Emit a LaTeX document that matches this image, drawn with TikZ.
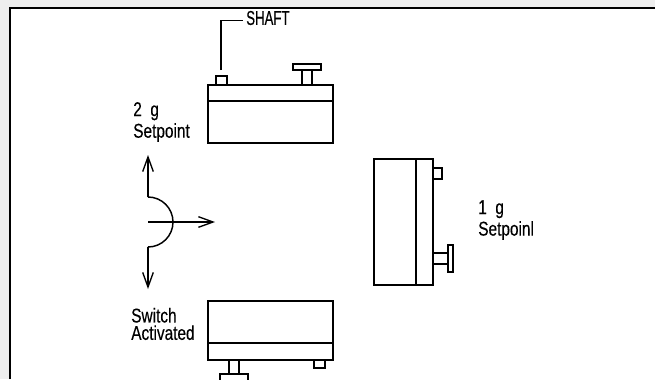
\documentclass[tikz,border=0pt]{standalone}
\usepackage{fontspec}
\newfontfamily\cadfont[FakeStretch=0.77,FakeBold=0.25]{Liberation Sans}
\newfontfamily\cadfontcap[FakeStretch=0.66,FakeBold=0.25]{Liberation Sans}
\usetikzlibrary{arrows.meta}
\definecolor{marco}{HTML}{EEEEEE}
\tikzset{
    linea/.style={line width=1.1pt,black},
    flecha/.style={linea,-{Straight Barb[length=11pt,width=8pt,line width=1pt]}},
    etiqueta/.style={font=\cadfont\fontsize{15}{13}\selectfont,align=left,anchor=west,inner sep=0pt}
}
\begin{document}
\begin{tikzpicture}[x=0.75pt,y=-0.75pt]
    % Marco
    \useasboundingbox (0,0) rectangle (655,379);
    \fill[marco] (0,0) rectangle (655,379);
    \fill[white] (10,8) rectangle (655,379);
    \draw[linea] (10,379) -- (10,8) -- (655,8);

    % Interruptor superior
    \draw[linea] (208,85) rectangle (333,143);
    \draw[linea] (208,101) -- (333,101);
    \draw[linea] (216,85) rectangle (227,76);
    \draw[linea] (302,85) rectangle (312,70);
    \draw[linea] (293,64) rectangle (321,70);

    % Interruptor derecho
    \draw[linea] (374,159) rectangle (433,285);
    \draw[linea] (416,159) -- (416,285);
    \draw[linea] (433,168) rectangle (442,179);
    \draw[linea] (433,253) rectangle (448,264);
    \draw[linea] (448,245) rectangle (453,272);

    % Interruptor inferior
    \draw[linea] (208,301) rectangle (333,360);
    \draw[linea] (208,343) -- (333,343);
    \draw[linea] (314,360) rectangle (325,368);
    \draw[linea] (229,360) rectangle (239,374);
    \draw[linea] (220,374) rectangle (248,385);

    % Flechas
    \coordinate (arcotop) at (148,197);
    \coordinate (arcobot) at (148,247);
    \coordinate (centro) at (148,222);
    \coordinate (puntatop) at (148,155);
    \coordinate (puntabot) at (148,289);
    \coordinate (puntader) at (215,222);
    \draw[flecha] (arcotop) -- (puntatop);
    \draw[flecha] (arcobot) -- (puntabot);
    \draw[flecha] (centro) -- (puntader);
    \draw[linea] (arcotop) arc[start angle=-90,end angle=90,radius=25];

    % Etiquetas
    \node[etiqueta,font=\cadfontcap\fontsize{15}{13}\selectfont] (shaft) at (246,18) {SHAFT};
    \node[etiqueta] (dosg) at (133,122) {2\ \ g\\[1.2pt]Setpoint};
    \node[etiqueta] (activado) at (131,324) {Switch\\Activated};
    \node[etiqueta] (unog) at (478,220) {1\ \ g\\[1.2pt]Setpoinl};

    % Linea de referencia
    \coordinate (eje) at (221,70);
    \draw[linea] (eje) |- ([xshift=-2pt,yshift=-2pt]shaft.west);
\end{tikzpicture}
\end{document}
